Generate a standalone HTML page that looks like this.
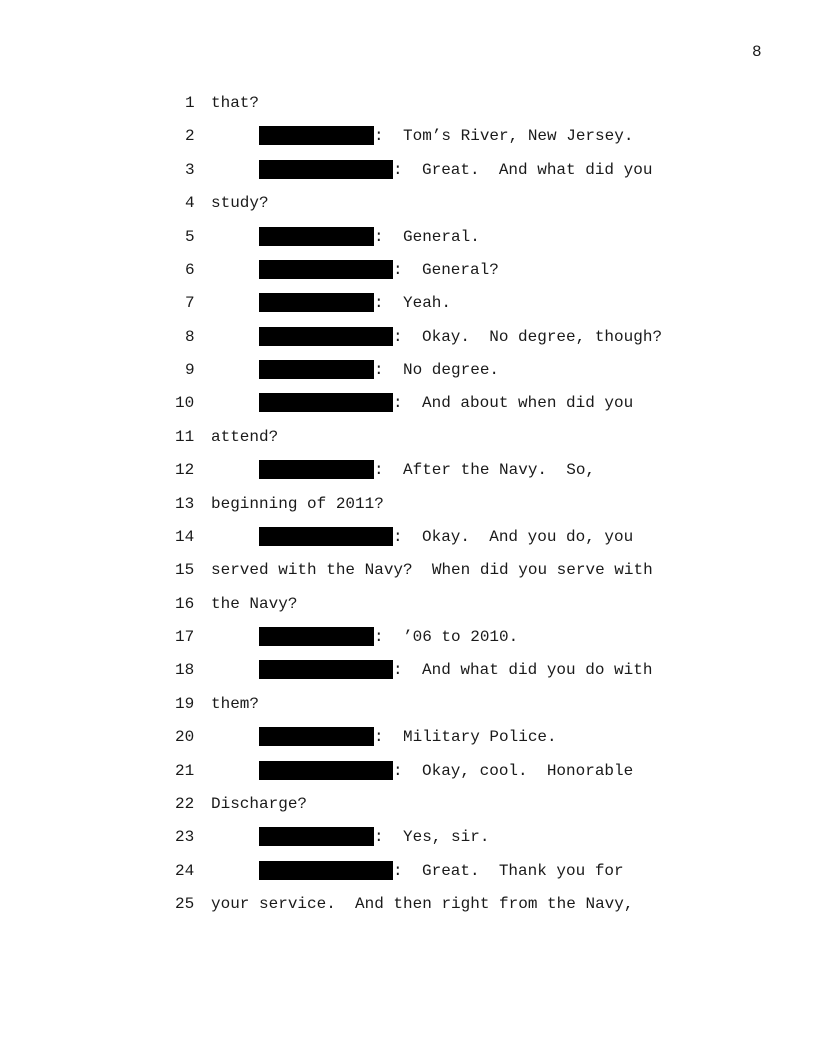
<!DOCTYPE html>
<html><head><style>
body{margin:0;background:#fff;}
#p{position:relative;width:816px;height:1056px;overflow:hidden;font-family:"Liberation Mono",monospace;font-size:16px;color:#1a1a1a;}
.t{position:absolute;line-height:18px;white-space:pre;}
.b{position:absolute;background:#000;height:19px;left:259px;}
</style></head><body><div id="p">
<div class="t" style="left:752px;top:43px">8</div>
<script>
(function(){
var L=[
[0,"that?"],[1,"Tom’s River, New Jersey."],[2,"Great.  And what did you"],[0,"study?"],
[1,"General."],[2,"General?"],[1,"Yeah."],[2,"Okay.  No degree, though?"],[1,"No degree."],
[2,"And about when did you"],[0,"attend?"],[1,"After the Navy.  So,"],[0,"beginning of 2011?"],
[2,"Okay.  And you do, you"],[0,"served with the Navy?  When did you serve with"],[0,"the Navy?"],
[1,"’06 to 2010."],[2,"And what did you do with"],[0,"them?"],[1,"Military Police."],
[2,"Okay, cool.  Honorable"],[0,"Discharge?"],[1,"Yes, sir."],[2,"Great.  Thank you for"],
[0,"your service.  And then right from the Navy,"]];
var h="";
for(var i=0;i<L.length;i++){
 var c=103+33.375*i, ty=(c-9).toFixed(1), n=i+1;
 h+='<div class="t" style="left:'+(n<10?185:175)+'px;top:'+ty+'px">'+n+'</div>';
 var k=L[i][0];
 if(k==0){h+='<div class="t" style="left:211px;top:'+ty+'px">'+L[i][1]+'</div>';}
 else{
  var w=k==1?115:134, cx=k==1?374:393, tx=k==1?403:422;
  h+='<div class="b" style="top:'+(c-10).toFixed(1)+'px;width:'+w+'px"></div>';
  h+='<div class="t" style="left:'+cx+'px;top:'+ty+'px">:</div>';
  h+='<div class="t" style="left:'+tx+'px;top:'+ty+'px">'+L[i][1]+'</div>';
 }
}
document.write(h);
})();
</script>
</div></body></html>
